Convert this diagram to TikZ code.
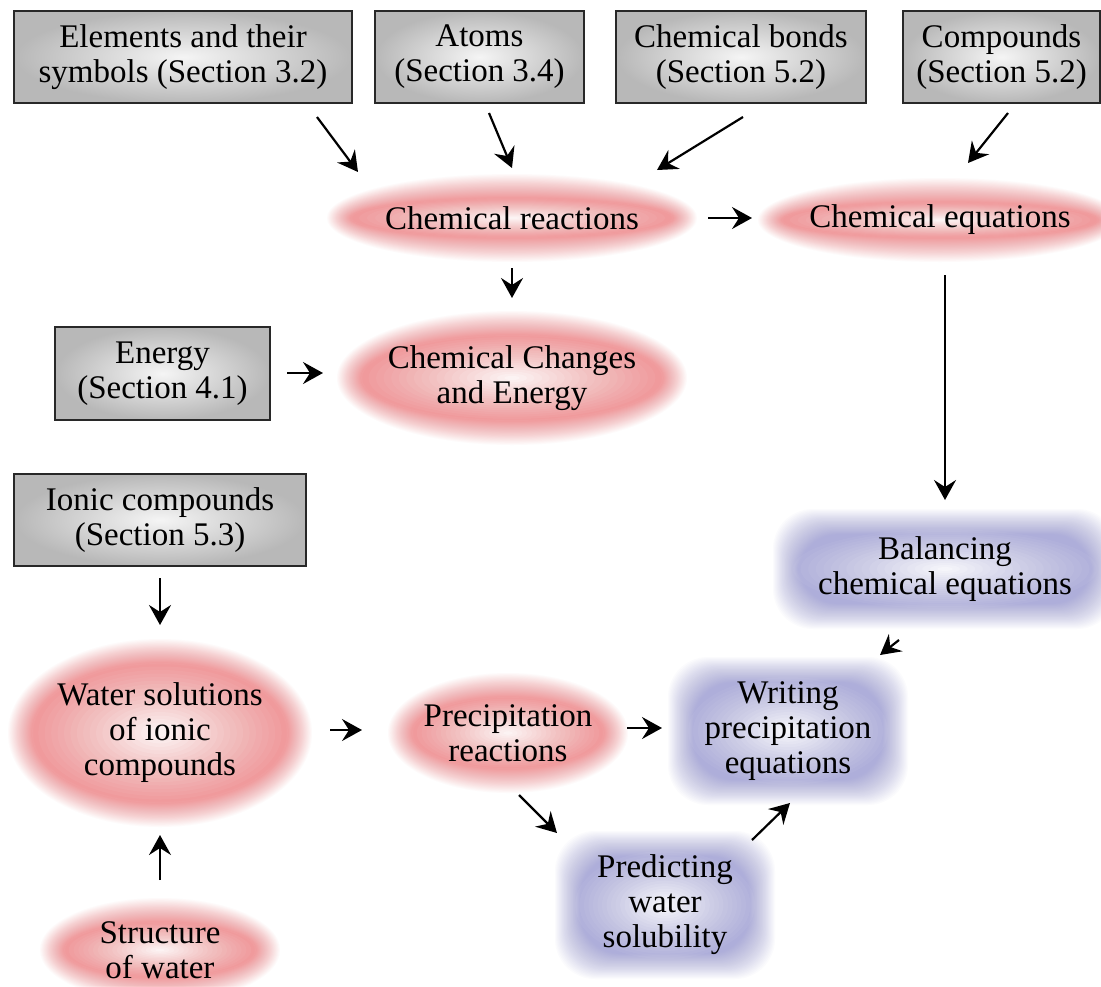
\documentclass[tikz,border=0pt]{standalone}
\usepackage{fontspec}
\setmainfont{Liberation Serif}
\usetikzlibrary{arrows.meta}
\definecolor{pinkring}{RGB}{240,150,152}
\definecolor{lav}{RGB}{174,174,218}
\definecolor{boxedge}{RGB}{40,40,40}
\tikzset{
  every node/.style={font=\fontsize{33}{35}\selectfont, align=center, inner sep=0pt},
  graybox/.style={rectangle, draw=boxedge, line width=1.3pt, inner color=black!4, outer color=black!28, minimum height=92pt},
  pinkell/.style 2 args={rectangle, minimum width=2*#1pt, minimum height=2*#2pt,
    path picture={
      \foreach \k in {1,...,24}{\pgfmathsetmacro\op{1/(25-\k)}
        \fill[pinkring, fill opacity=\op] (path picture bounding box.center) ellipse [x radius={#1pt-(\k-1)*1.1pt}, y radius={#2pt-(\k-1)*1.1pt}];}
      \foreach \j in {1,...,20}{\pgfmathsetmacro\op{1-(1-0.9*\j/20)/(1-0.9*(\j-1)/20)}
        \fill[white, fill opacity=\op] (path picture bounding box.center) ellipse [x radius={(#1pt-24pt)*(21-\j)/20}, y radius={(#2pt-24pt)*(21-\j)/20}];}
    }},
  bluebox/.style 2 args={rectangle, minimum width=2*#1pt, minimum height=2*#2pt,
    path picture={
      \foreach \k in {1,...,24}{\pgfmathsetmacro\op{1/(25-\k)}\pgfmathsetmacro\dd{(\k-1)*1.1}
        \fill[lav, fill opacity=\op, rounded corners=40pt] ([shift={({-#1+\dd},{-#2+\dd})}]path picture bounding box.center) rectangle ([shift={({#1-\dd},{#2-\dd})}]path picture bounding box.center);}
      \foreach \j in {1,...,20}{\pgfmathsetmacro\op{1-(1-0.9*\j/20)/(1-0.9*(\j-1)/20)}
        \fill[white, fill opacity=\op] (path picture bounding box.center) ellipse [x radius={(#1pt-20pt)*(21-\j)/20}, y radius={(#2pt-20pt)*(21-\j)/20}];}
    }},
  arr/.style={-{Stealth[length=20pt,width=22pt,inset=7pt]}, line width=2.2pt},
}
\begin{document}
\begin{tikzpicture}[x=1pt,y=-1pt]
\useasboundingbox (0,0) rectangle (1101,986);
\clip (0,0) rectangle (1101,986);
\fill[white] (0,0) rectangle (1101,986);

% gray boxes
\node[graybox, minimum width=338pt] (elem) at (183,57) {Elements and their\\symbols (Section 3.2)};
\node[graybox, minimum width=209pt] (atoms) at (479.5,57) {Atoms\\(Section 3.4)};
\node[graybox, minimum width=250pt] (bonds) at (741,57) {Chemical bonds\\(Section 5.2)};
\node[graybox, minimum width=197pt] (cmpd) at (1001.5,57) {Compounds\\(Section 5.2)};
\node[graybox, minimum width=215pt, minimum height=93pt] (energy) at (162.5,373.5) {Energy\\(Section 4.1)};
\node[graybox, minimum width=292pt] (ionic) at (160,520) {Ionic compounds\\(Section 5.3)};

% pink ellipses
\node[pinkell={185}{44}] (cr) at (512,218) {Chemical reactions};
\node[pinkell={182}{42}] (ceq) at (940,220) {Chemical equations};
\node[pinkell={175}{67}] (cce) at (512,378) {Chemical Changes\\and Energy};
\node[pinkell={152}{94}] (ws) at (160,733) {Water solutions\\of ionic\\compounds};
\node[pinkell={120}{60}] (pr) at (508,733) {Precipitation\\reactions};
\node[pinkell={120}{52}] (sw) at (160,950) {Structure\\of water};

% blue boxes
\node[bluebox={172}{60}] (bal) at (945,569) {Balancing\\chemical equations};
\node[bluebox={120}{74}] (wpe) at (788,731) {Writing\\precipitation\\equations};
\node[bluebox={110}{74}] (pws) at (665,905) {Predicting\\water\\solubility};

% arrows
\draw[arr] ([shift={(134,60)}]elem.center) -- ([shift={(-154,-46)}]cr.center);
\draw[arr] ([shift={(9.5,56)}]atoms.center) -- ([shift={(0,-50)}]cr.center);
\draw[arr] ([shift={(2,60)}]bonds.center) -- ([shift={(145,-48)}]cr.center);
\draw[arr] ([shift={(6.5,56)}]cmpd.center) -- ([shift={(28,-57)}]ceq.center);
\draw[arr] ([shift={(196,0)}]cr.center) -- ([shift={(-188,-2)}]ceq.center);
\draw[arr] ([shift={(0,50)}]cr.center) -- ([shift={(0,-80)}]cce.center);
\draw[arr] ([shift={(124.5,-0.5)}]energy.center) -- ([shift={(-189,-5)}]cce.center);
\draw[arr] ([shift={(5,55)}]ceq.center) -- ([shift={(0,-69)}]bal.center);
\draw[arr] ([shift={(0,58)}]ionic.center) -- ([shift={(0,-108)}]ws.center);
\draw[arr] ([shift={(0,-70)}]sw.center) -- ([shift={(0,102)}]ws.center);
\draw[arr] ([shift={(170,-3)}]ws.center) -- ([shift={(-146,-3)}]pr.center);
\draw[arr] ([shift={(119,-5)}]pr.center) -- ([shift={(-126,-3)}]wpe.center);
\draw[arr] ([shift={(-46,71)}]bal.center) -- ([shift={(92,-76)}]wpe.center);
\draw[arr] ([shift={(11,62)}]pr.center) -- ([shift={(-108,-72)}]pws.center);
\draw[arr] ([shift={(87,-65)}]pws.center) -- ([shift={(2,72)}]wpe.center);
\end{tikzpicture}
\end{document}
